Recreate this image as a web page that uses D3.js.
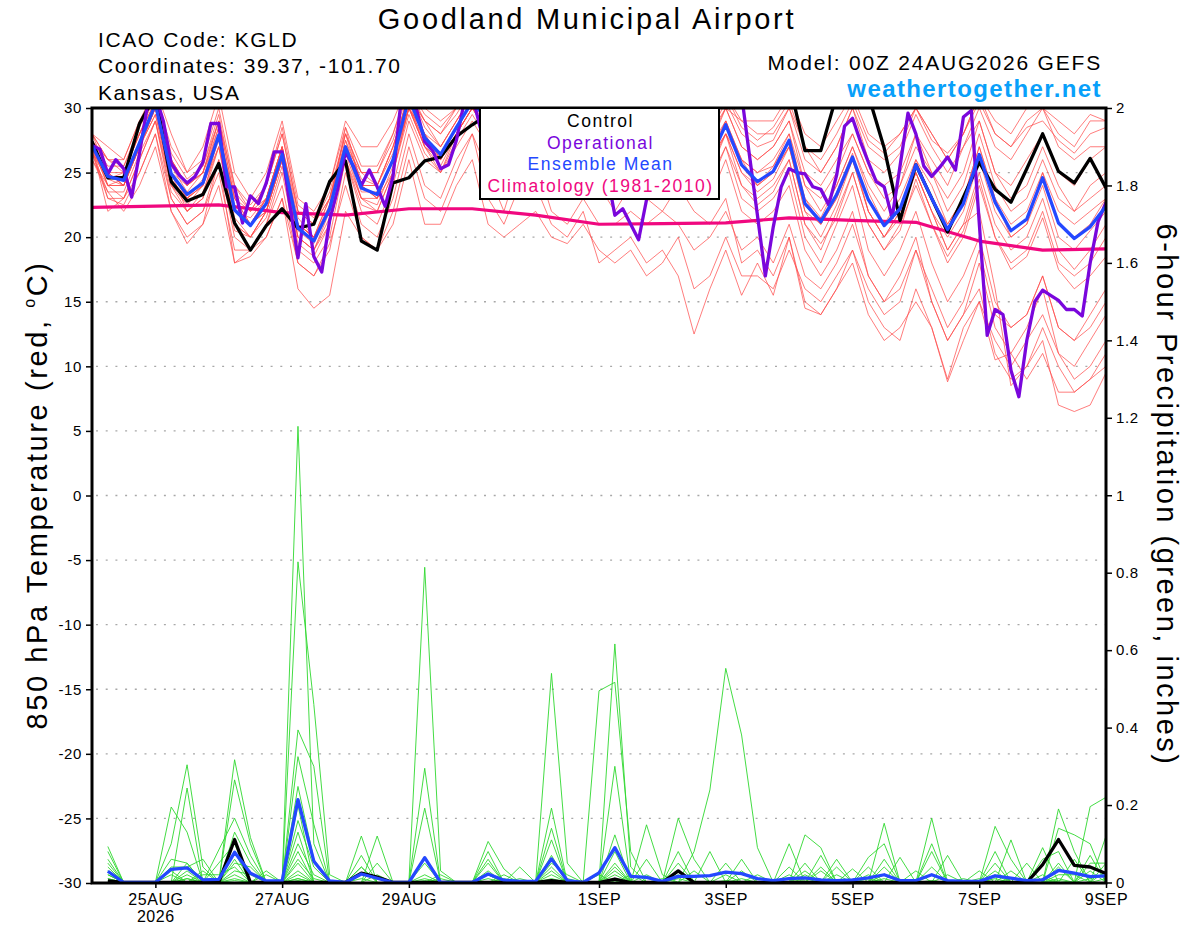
<!DOCTYPE html>
<html>
<head>
<meta charset="utf-8">
<script src="https://cdn.jsdelivr.net/npm/d3@7"></script>
<style>
	body { margin: 0; background: #fff; }
	svg text { font-family: "Liberation Sans", Arial, Helvetica, sans-serif; }
</style>
</head>
<body>
<svg id="chart" width="1200" height="927"></svg>
<script>
/* eslint-disable no-magic-numbers */

// run start, 00Z 24AUG2026; members are 6-hourly, operational 3-hourly
var runStart = Date.UTC(2026, 7, 24, 0),
	runHours = 384;

var tempTicks = [30, 25, 20, 15, 10, 5, 0, -5, -10, -15, -20, -25, -30],
	precipTicks = [0, 0.2, 0.4, 0.6, 0.8, 1, 1.2, 1.4, 1.6, 1.8, 2],
	xTickDays = [1, 3, 5, 8, 10, 12, 14, 16],
	xTickLabels = ["25AUG", "27AUG", "29AUG", "1SEP", "3SEP", "5SEP", "7SEP", "9SEP"],
	legendLabels = ["Control", "Operational", "Ensemble Mean", "Climatology (1981-2010)"];

// 850 hPa temperature, deg C, every 6 h from 00Z 24AUG (65 values)
var tempControl = [27.4, 24.6, 24.6, 28.8, 31, 24.3, 22.8, 23.3, 25.7, 21.1, 19, 20.9, 22.2, 20.7, 21, 24.3,
	25.9, 19.7, 19, 24.2, 24.6, 25.9, 26.2, 27.8, 28.7, 29.5, 30.5, 31, 29.5, 28.5, 30.5, 31,
	29, 28, 29.5, 28.5, 30, 31, 29.5, 30.5, 31, 31.5, 31, 31.5, 32, 26.7, 26.7, 31,
	32, 31, 26.9, 21.3, 25.6, 23, 20.4, 23.1, 25.8, 23.7, 22.7, 25.3, 28, 25.1, 24.2, 26.1, 23.8];

var tempMean = [27.1, 24.7, 24.4, 27.3, 30.3, 24.9, 23.3, 24.2, 27.9, 22.1, 20.9, 22.6, 26.4, 20.7, 19.7, 22.2,
	27, 23.8, 23.3, 26, 30.8, 27.7, 26.4, 28.5, 30.5, 29, 27.5, 30.2, 28.5, 26.5, 27, 29,
	26, 25.5, 27.5, 26, 25.5, 28, 26.5, 26, 28.7, 25.6, 24.3, 25.1, 27.5, 22.6, 21.2, 23.3,
	26.2, 22.9, 20.9, 22.2, 25.6, 23, 20.6, 22.6, 26.4, 22.7, 20.5, 21.4, 24.6, 21.1, 19.9, 20.8, 22.4];

// operational run, every 3 h (129 values)
var tempOper = [27.1, 26.8, 24.9, 26, 25.3, 23.1, 26.5, 30.2, 31, 29, 25.7, 24.8, 24.2, 24.7, 25.8, 28.8,
	28.8, 23.9, 23.9, 21.1, 23.2, 22.6, 24.2, 26.6, 26.6, 22.4, 18.4, 22.6, 18.5, 17.3, 21.3, 23.7,
	26.6, 25.5, 24, 25.2, 23.9, 22.4, 24.7, 30.5, 31.5, 29.8, 27.4, 26.7, 25.3, 25.6, 27.5, 30.5,
	31, 28.5, 30.5, 31, 29.5, 27, 28, 30.5, 31, 29, 27.5, 26.5, 28.5, 30.5, 29, 27,
	26.5, 25, 21.7, 22.2, 21, 19.8, 22.9, 26.5, 29, 30.5, 29.5, 28, 27, 28.5, 30.5, 31.5,
	31, 30.5, 31, 26.3, 21.7, 17, 20.8, 23.9, 25.3, 25, 24.9, 23.9, 23.7, 22.5, 24.8, 28.6,
	29.2, 27.4, 25.8, 24.3, 23.9, 21.5, 25.5, 29.6, 28, 25.5, 24.7, 25.4, 26.2, 25.2, 29.3, 29.8,
	21.1, 12.4, 14.4, 14, 9.7, 7.65, 12, 15, 15.9, 15.5, 15.1, 14.4, 14.4, 13.9, 18, 21.2, 22.7];

// 1981-2010 climatology, one value per day at 00Z (17 values)
var tempClimo = [22.3, 22.4, 22.5, 21.9, 21.7, 22.2, 22.2, 21.7, 21, 21.05, 21.1, 21.5, 21.3, 21.15, 19.7, 19, 19.1];

// GEFS perturbed members, 6-hourly (65 values each)
var tempMembers = [
	[28, 27, 26, 29, 31, 27, 25, 26, 30, 24, 22, 24, 28, 22, 21, 23, 28, 25, 25, 28, 32, 30, 29, 30, 32, 31, 30, 31, 30, 29, 29, 31,
		28, 28, 29, 28, 28, 30, 28, 28, 30, 29, 28, 28, 30, 27, 25, 27, 30, 27, 26, 27, 30, 28, 26, 28, 31, 28, 27, 29, 30, 28, 27, 29, 29],
	[27.5, 26, 25, 28, 30.5, 26, 24, 25, 29, 23, 21, 23, 27, 21.5, 20, 22.5, 28.5, 24, 24, 27, 31, 29, 28, 30, 31, 30, 28, 31, 29, 27, 28, 30,
		27, 27, 28.5, 27, 27, 29, 28, 27, 30, 27, 26, 27, 29, 25, 24, 26, 28, 25, 24, 25, 28, 26, 24, 27, 29, 25, 24, 26, 28, 25, 24, 26, 27],
	[27, 24, 24, 27, 29.5, 24, 23, 24, 27, 22, 21, 22, 26, 21, 20, 22, 27, 23, 23, 26, 30.5, 27, 26, 28, 30, 28, 27, 29.5, 28, 26, 27, 29,
		26, 25, 27, 25, 25, 27, 26, 26, 28, 25, 24, 25, 27, 23, 21, 23, 26, 23, 21, 22, 26, 23, 21, 23, 27, 23, 21, 22, 25, 22, 21, 22, 23],
	[26.5, 25, 24, 27, 30, 25, 22, 23, 28, 21, 20, 22, 26, 20, 19, 22, 27, 24, 23, 25, 30, 28, 26, 28, 31, 29, 27, 30, 29, 26, 26, 28,
		25, 24, 27, 26, 25, 28, 26, 25, 28, 24, 23, 24, 26, 21, 19, 22, 25, 21, 19, 21, 24, 21, 18, 20, 24, 20, 18, 19, 22, 18, 17, 18, 20],
	[27, 23, 23, 26, 29, 24, 22, 23, 27, 21, 20, 22, 26, 20, 19, 21, 26, 23, 22, 25, 30, 27, 25, 28, 30, 28, 26, 29, 28, 25, 26, 28,
		25, 24, 26, 25, 24, 26, 25, 24, 27, 23, 22, 23, 25, 20, 18, 21, 24, 19, 17, 19, 22, 18, 15, 17, 20, 15, 13, 14, 17, 13, 12, 13, 15],
	[27.5, 24, 23, 26, 29, 23, 21, 22, 26, 20, 19, 21, 25, 19, 18, 20, 26, 22, 21, 24, 29, 26, 25, 27, 29, 27, 25, 28, 27, 24, 25, 27,
		24, 23, 25, 24, 24, 25, 24, 23, 26, 22, 21, 22, 24, 19, 17, 19, 22, 17, 15, 17, 20, 15, 12, 14, 16, 11, 9, 10, 12, 7, 6.5, 7, 9.5],
	[26.5, 23, 22.5, 25, 28, 23, 21, 22, 25, 19, 19, 21, 24, 18, 17, 19, 25, 21, 20, 23, 28, 24, 23, 26, 28, 25, 22, 26, 24, 21, 20, 22,
		18, 19, 20, 18, 19, 17, 12.5, 16, 19, 15.5, 18, 15.5, 20, 15, 14, 16, 18, 14, 12, 13, 15, 13, 9, 13, 15, 10.5, 11, 9, 11, 8, 8, 9, 11],
	[27, 22, 23, 25, 28, 22, 20, 21, 26, 18, 19, 20, 23, 16, 14.5, 15.5, 22, 20, 19, 22, 27, 23, 22, 25, 28, 23, 21, 24, 26, 22, 21, 23,
		21, 21, 22, 21, 22, 21, 19, 20, 22, 19, 20, 18, 21, 17, 16, 18, 21, 17, 15, 16, 19, 16, 13, 15, 19, 14, 13, 14, 17, 13, 12, 14, 16],
	[28, 25, 25, 28, 31, 26, 24, 25, 29, 23, 21, 23, 27, 21, 20, 23, 28, 24, 24, 27, 31, 28, 27, 29, 31, 30, 28, 31, 29, 27, 28, 30,
		27, 26, 28, 27, 26, 28, 27, 27, 29, 26, 25, 26, 28, 24, 22, 24, 27, 24, 22, 24, 27, 25, 22, 24, 28, 24, 22, 23, 26, 23, 22, 23, 24],
	[26.5, 24.5, 24, 27.5, 30, 25.5, 23.5, 25, 28.5, 22.5, 21, 22.5, 26.5, 21, 20, 23, 27.5, 24.5, 24, 26.5, 31.5, 28.5, 27, 29, 31, 29.5, 28, 30.5, 29, 27, 27.5, 29.5,
		26.5, 26, 28, 26.5, 26, 28.5, 27, 26.5, 29, 26, 25, 25.5, 28, 23, 21.5, 24, 27, 23.5, 21, 23, 26, 24, 21, 23, 27, 23, 20, 21, 25, 21, 20, 21, 23],
	[28, 26, 26, 29, 31.5, 28, 25, 27, 31, 25, 23, 25, 29, 23, 22, 24, 29, 27, 27, 29, 32, 30, 30, 31, 32, 31, 30, 32, 31, 29, 30, 31,
		29, 28, 30, 29, 29, 31, 29, 29, 31, 29, 29, 29, 31, 28, 27, 29, 31, 28, 27, 28, 30, 28, 26, 28, 31, 29, 28, 30, 30, 29, 28, 29.5, 29],
	[27, 24, 24, 27, 30, 24, 22.5, 24, 27.5, 21.5, 20, 22, 26, 20, 19, 21.5, 26.5, 23, 22.5, 25.5, 30, 27, 25.5, 28, 30, 28.5, 27, 29.5, 28, 26, 26.5, 28.5,
		25.5, 25, 27, 25.5, 25, 27.5, 26, 25.5, 28, 25, 23.5, 24.5, 27, 22, 20, 22.5, 26, 22, 20, 21.5, 25, 22, 19, 21, 25, 21, 19, 20, 23, 19, 17.5, 19, 21],
	[26.5, 23.5, 22, 24, 27, 22, 19.5, 21, 24, 18, 18.5, 20, 23, 18, 17, 19.5, 24, 20, 19, 21, 26, 21, 21, 24, 26, 21, 20, 21, 22, 20, 19.5, 21,
		19, 18, 19, 17, 18, 20, 16, 17, 20, 17, 17, 16, 19, 16, 15, 17, 19, 16, 14, 15, 19, 15, 12, 14, 18, 13, 11, 13, 16, 11, 10, 12, 14],
	[27, 25, 24, 27, 30, 25, 23, 24, 28, 22, 21, 23, 27, 21, 20, 22, 27, 24, 23, 26, 30, 27, 26, 28, 30, 28, 26, 29, 27, 25, 25, 27,
		24, 22, 24, 23, 22, 24, 22, 21, 23, 18, 19, 17, 20, 14.5, 14, 16, 19, 15, 13, 12, 16, 13, 8.8, 12, 15, 12, 10, 12, 14, 11, 9, 10, 12],
	[27.5, 24.5, 25, 28, 30.5, 25, 24, 25, 28, 23, 22, 23, 27, 22, 21, 23, 27, 25, 24, 27, 31, 29, 27, 29, 31, 30, 28.5, 30.5, 30, 27.5, 28, 30,
		27.5, 26.5, 29, 27.5, 27, 29, 28, 27.5, 30, 27, 26, 27, 29, 24, 23, 25, 28, 25, 23, 24, 28, 25, 23, 25, 29, 25, 23, 24, 27, 24, 22, 24, 25],
	[26, 24, 24.5, 27, 29.5, 24.5, 23, 24.5, 28.5, 22, 21.5, 23, 27, 20.5, 19.5, 22.5, 27.5, 23.5, 23.5, 26, 30, 27.5, 26, 28.5, 30.5, 29, 27.5, 29, 28.5, 26.5, 26.5, 28.5,
		26, 25.5, 27.5, 26.5, 25.5, 28, 26.5, 26, 29, 25.5, 24, 25.5, 27.5, 22.5, 21, 23.5, 26.5, 22, 20, 22, 25, 22, 20, 22, 26, 22, 20, 21, 24, 20, 19, 20.5, 22],
	[27, 25, 24, 27, 30, 25, 23, 24, 28, 22, 21, 22, 26, 21, 20, 22, 27, 24, 23, 26, 30, 28, 26, 28, 30, 29, 27, 30, 28, 27, 27, 29,
		26, 26, 27, 26, 26, 28, 26, 26, 28, 26, 24, 25, 27, 22, 21, 23, 26, 22, 20, 22, 25, 22, 19, 21, 22, 16, 8.5, 10, 13, 10, 8, 9, 10],
	[27.5, 25.5, 25.5, 28.5, 31, 26.5, 24.5, 25.5, 29.5, 23.5, 22, 24, 28, 22, 21, 23.5, 28, 25, 25, 27.5, 31.5, 29, 28, 29.5, 31.5, 30, 29, 31, 30, 28, 28.5, 30,
		28, 27, 29, 28, 27.5, 29.5, 28.5, 28, 30.5, 28, 27, 27.5, 30, 26, 25, 27, 30, 26, 25, 26.5, 29.5, 27, 25, 27, 30, 27, 26, 28, 30, 27, 26, 27, 27],
	[26, 23.5, 23.5, 26.5, 29, 23.5, 22, 23.5, 27, 20.5, 20, 21.5, 25.5, 19.5, 18.5, 21, 26, 22.5, 22, 25, 29.5, 26.5, 25, 27.5, 29.5, 27.5, 26, 28.5, 27.5, 25, 25.5, 27.5,
		24.5, 24, 26, 24.5, 24, 26.5, 25, 24.5, 27, 24, 22.5, 23.5, 26, 21, 19.5, 21.5, 25, 21, 19, 20.5, 24.5, 21, 18.5, 20.5, 24.5, 20, 17.5, 18.5, 21.5, 17.5, 16, 17, 18.5],
	[28, 26, 25.5, 28, 30.5, 26, 24, 25.5, 29, 24, 22.5, 24, 28.5, 22.5, 21.5, 24, 28.5, 25.5, 25.5, 28, 31.5, 29.5, 28.5, 30, 31.5, 30.5, 29.5, 31.5, 30.5, 28, 29, 30.5,
		28.5, 27.5, 29.5, 28.5, 28, 30, 29, 28.5, 31, 28.5, 27.5, 28.5, 30.5, 27, 26, 28, 30.5, 27.5, 26.5, 28, 30, 27.5, 26.5, 28, 30.5, 28, 27, 28.5, 29, 27.5, 26.5, 28, 28.5]
];

// 6-hour precipitation, inches, periods ending 06Z 24AUG ... 00Z 9SEP (64 values)
var precipControl = [0.004, 0, 0, 0, 0, 0, 0, 0, 0.111, 0, 0, 0, 0, 0, 0, 0,
	0.024, 0.014, 0, 0, 0, 0, 0, 0, 0, 0, 0, 0, 0.005, 0, 0, 0,
	0.009, 0, 0, 0, 0.03, 0, 0, 0, 0, 0, 0, 0, 0, 0, 0, 0,
	0, 0, 0, 0, 0, 0, 0, 0, 0, 0, 0, 0.046, 0.111, 0.044, 0.04, 0.023];

var precipMean = [0.029, 0, 0, 0, 0.034, 0.038, 0.007, 0.008, 0.078, 0.024, 0.004, 0.004, 0.214, 0.055, 0.004, 0,
	0.022, 0.011, 0, 0, 0.064, 0, 0, 0, 0.022, 0.006, 0.003, 0.003, 0.061, 0.005, 0, 0.025,
	0.09, 0.016, 0.013, 0.003, 0.016, 0.016, 0.018, 0.027, 0.023, 0.01, 0.005, 0.01, 0.012, 0.007, 0.005, 0.007,
	0.012, 0.02, 0.005, 0.005, 0.02, 0.005, 0.003, 0.003, 0.017, 0.011, 0.005, 0.007, 0.031, 0.024, 0.015, 0.017];

var precipMembers = [
	[0.093, 0, 0, 0, 0.1, 0.304, 0.04, 0, 0.08, 0, 0, 0, 1.178, 0.1, 0, 0, 0.04, 0, 0, 0, 0.05, 0, 0, 0, 0.06, 0, 0, 0, 0.54, 0.05, 0, 0,
		0.05, 0, 0, 0, 0.05, 0, 0, 0.05, 0, 0, 0, 0, 0.05, 0, 0, 0, 0, 0.06, 0, 0, 0.08, 0, 0, 0, 0.05, 0, 0, 0, 0.05, 0, 0.05, 0.05],
	[0.08, 0, 0, 0, 0.195, 0.13, 0, 0, 0.317, 0.116, 0, 0, 0.828, 0.46, 0.02, 0, 0, 0.05, 0, 0, 0.02, 0, 0, 0, 0.106, 0.035, 0, 0, 0.192, 0, 0, 0,
		0.616, 0.04, 0, 0, 0, 0, 0.08, 0, 0, 0, 0, 0.1, 0, 0.04, 0, 0, 0.04, 0, 0, 0, 0.166, 0, 0, 0, 0.08, 0, 0, 0, 0.19, 0.08, 0, 0.12],
	[0.06, 0, 0, 0, 0, 0.244, 0, 0, 0.265, 0.1, 0, 0, 0.394, 0.3, 0, 0, 0.12, 0, 0, 0, 0.814, 0.03, 0, 0, 0.08, 0, 0, 0, 0.14, 0, 0, 0.495,
		0.517, 0.08, 0, 0, 0.166, 0.06, 0, 0, 0.06, 0, 0, 0, 0.123, 0.09, 0, 0, 0, 0.153, 0, 0, 0, 0.07, 0, 0, 0, 0.11, 0, 0.09, 0, 0, 0.196, 0.22],
	[0.05, 0, 0, 0, 0.06, 0.05, 0, 0.084, 0.166, 0.07, 0, 0, 0.325, 0.15, 0, 0, 0, 0.12, 0, 0, 0.295, 0, 0, 0, 0.05, 0, 0.04, 0, 0.11, 0, 0, 0,
		0.3, 0, 0.149, 0.02, 0, 0.08, 0.239, 0.553, 0.381, 0.09, 0, 0, 0, 0.07, 0, 0, 0.065, 0.1, 0, 0, 0.1, 0, 0, 0, 0.145, 0.06, 0, 0, 0.14, 0.123, 0.1, 0],
	[0.04, 0, 0, 0, 0.04, 0.04, 0.06, 0, 0.13, 0.05, 0, 0, 0.248, 0.06, 0, 0, 0.07, 0, 0, 0, 0.192, 0, 0, 0, 0.03, 0, 0, 0, 0.07, 0, 0, 0,
		0.123, 0, 0.06, 0, 0, 0, 0, 0, 0, 0, 0, 0.04, 0, 0, 0.06, 0, 0, 0, 0.065, 0, 0, 0, 0, 0.03, 0, 0, 0, 0.06, 0.08, 0, 0.07, 0],
	[0.03, 0, 0, 0, 0, 0.03, 0, 0.05, 0.1, 0, 0, 0, 0.2, 0, 0, 0, 0.04, 0, 0, 0, 0, 0.01, 0, 0, 0, 0.02, 0, 0, 0.05, 0.02, 0, 0,
		0.08, 0, 0, 0, 0.08, 0, 0, 0, 0, 0, 0, 0, 0.02, 0, 0.04, 0, 0, 0.02, 0, 0.03, 0, 0, 0, 0, 0.03, 0, 0.05, 0, 0, 0.06, 0, 0.05],
	[0.03, 0, 0, 0, 0.03, 0, 0.03, 0, 0.06, 0, 0.03, 0, 0.16, 0.04, 0, 0, 0, 0.02, 0, 0, 0, 0, 0, 0, 0.02, 0, 0, 0, 0.04, 0, 0, 0,
		0.04, 0, 0, 0, 0, 0.03, 0, 0, 0.03, 0, 0, 0, 0, 0.03, 0, 0.035, 0, 0, 0, 0, 0.04, 0, 0, 0, 0, 0.03, 0, 0, 0.04, 0, 0, 0.03],
	[0.02, 0, 0, 0, 0, 0.02, 0, 0, 0.05, 0.04, 0, 0, 0.13, 0, 0, 0, 0, 0, 0, 0, 0, 0.02, 0, 0, 0, 0, 0, 0, 0.03, 0, 0, 0.02,
		0, 0.02, 0, 0, 0.02, 0, 0, 0.02, 0, 0, 0, 0.02, 0, 0, 0, 0, 0.02, 0, 0, 0, 0, 0, 0.01, 0, 0, 0, 0, 0.02, 0, 0, 0.03, 0],
	[0.02, 0, 0, 0, 0.02, 0, 0.02, 0.02, 0.04, 0, 0.02, 0, 0.1, 0.02, 0, 0, 0, 0, 0, 0, 0.01, 0, 0, 0, 0.01, 0, 0, 0, 0, 0.01, 0, 0,
		0.02, 0, 0, 0.01, 0, 0, 0, 0, 0, 0.02, 0, 0, 0, 0, 0.02, 0, 0, 0.04, 0, 0, 0, 0.02, 0, 0, 0.02, 0, 0, 0, 0.02, 0.02, 0, 0],
	[0, 0, 0, 0, 0, 0, 0, 0, 0.03, 0.02, 0, 0, 0.08, 0, 0, 0, 0.01, 0, 0, 0, 0, 0, 0, 0, 0, 0.01, 0, 0, 0.02, 0, 0, 0,
		0.01, 0, 0.02, 0, 0, 0, 0, 0, 0, 0, 0, 0, 0.01, 0, 0, 0, 0, 0, 0, 0, 0.02, 0, 0, 0.01, 0, 0, 0, 0, 0, 0, 0.01, 0.02],
	[0.01, 0, 0, 0, 0, 0.01, 0, 0, 0.02, 0, 0, 0, 0.06, 0.01, 0, 0, 0, 0, 0, 0, 0, 0, 0, 0, 0.02, 0, 0, 0, 0, 0, 0, 0,
		0.03, 0, 0, 0, 0.01, 0, 0, 0, 0.01, 0, 0, 0, 0, 0, 0, 0, 0.01, 0, 0, 0, 0, 0, 0, 0, 0.01, 0, 0, 0, 0.01, 0, 0, 0],
	[0, 0, 0, 0, 0, 0, 0, 0, 0.01, 0, 0, 0, 0.05, 0, 0, 0, 0, 0, 0, 0, 0, 0, 0, 0, 0, 0, 0.01, 0, 0.01, 0, 0, 0,
		0, 0, 0, 0, 0, 0, 0, 0, 0, 0, 0, 0, 0.03, 0, 0, 0, 0, 0.01, 0, 0, 0, 0, 0, 0, 0, 0, 0, 0.01, 0, 0, 0, 0.01],
	[0.01, 0, 0, 0, 0, 0.05, 0, 0, 0, 0, 0, 0, 0.03, 0, 0, 0, 0, 0, 0, 0, 0, 0, 0, 0, 0, 0, 0, 0, 0, 0, 0, 0,
		0, 0, 0, 0, 0, 0, 0, 0, 0, 0, 0, 0, 0, 0, 0, 0, 0, 0, 0, 0, 0, 0, 0, 0, 0, 0.01, 0, 0, 0, 0, 0, 0],
	[0, 0, 0, 0, 0, 0, 0, 0, 0, 0, 0, 0, 0.02, 0, 0, 0, 0, 0, 0, 0, 0, 0, 0, 0, 0, 0, 0, 0, 0.005, 0, 0, 0,
		0, 0, 0, 0, 0, 0, 0, 0, 0, 0, 0, 0, 0, 0, 0, 0, 0, 0, 0, 0, 0.005, 0, 0, 0, 0, 0, 0, 0, 0, 0, 0, 0],
	[0, 0, 0, 0, 0, 0, 0, 0, 0.005, 0, 0, 0, 0.01, 0, 0, 0, 0, 0, 0, 0, 0, 0, 0, 0, 0, 0, 0, 0, 0, 0, 0, 0,
		0.01, 0, 0, 0, 0, 0, 0, 0, 0, 0, 0, 0, 0, 0, 0, 0, 0, 0, 0, 0, 0, 0, 0, 0, 0, 0, 0, 0, 0, 0, 0, 0],
	[0, 0, 0, 0, 0, 0, 0, 0, 0, 0, 0, 0, 0.005, 0, 0, 0, 0, 0, 0, 0, 0.005, 0, 0, 0, 0, 0, 0, 0, 0, 0, 0, 0,
		0, 0, 0, 0, 0, 0, 0, 0, 0, 0, 0, 0, 0, 0, 0, 0, 0, 0, 0, 0, 0, 0, 0, 0, 0, 0, 0, 0, 0, 0, 0, 0],
	[0, 0, 0, 0, 0, 0.01, 0, 0, 0, 0, 0, 0, 0, 0, 0, 0, 0, 0, 0, 0, 0, 0, 0, 0, 0, 0, 0, 0, 0, 0, 0, 0,
		0, 0, 0, 0, 0, 0, 0, 0.005, 0, 0, 0, 0, 0, 0, 0, 0, 0, 0, 0, 0, 0, 0, 0, 0, 0, 0, 0, 0, 0, 0, 0, 0],
	[0.005, 0, 0, 0, 0, 0, 0, 0, 0, 0, 0, 0, 0, 0, 0, 0, 0, 0, 0, 0, 0, 0, 0, 0, 0, 0, 0, 0, 0, 0, 0, 0,
		0, 0, 0, 0, 0, 0, 0, 0, 0, 0, 0, 0, 0, 0, 0, 0, 0, 0, 0, 0, 0, 0, 0, 0, 0, 0, 0, 0, 0, 0, 0, 0],
	[0, 0, 0, 0, 0, 0, 0, 0, 0, 0, 0, 0, 0.01, 0, 0, 0, 0, 0, 0, 0, 0, 0, 0, 0, 0, 0, 0, 0, 0, 0, 0, 0,
		0, 0, 0, 0, 0, 0, 0, 0, 0, 0, 0, 0, 0, 0, 0, 0, 0, 0, 0, 0, 0, 0, 0, 0, 0, 0, 0, 0, 0.005, 0, 0, 0],
	[0, 0, 0, 0, 0, 0, 0, 0, 0, 0, 0, 0, 0, 0, 0, 0, 0, 0, 0, 0, 0, 0, 0, 0, 0, 0, 0, 0, 0, 0, 0, 0,
		0.005, 0, 0, 0, 0, 0, 0, 0, 0, 0, 0, 0, 0, 0, 0, 0, 0, 0, 0, 0, 0, 0, 0, 0, 0, 0, 0, 0, 0, 0, 0, 0]
];

(function() {
	'use strict';

	var svg = d3.select("#chart"),
		left = 92,
		right = 1106,
		top = 108,
		bottom = 883,
		hourMs = 3600 * 1000,
		x, yT, yP, plot, tempLine, precipLine;

	function at(hours) {
		return new Date(runStart + hours * hourMs);
	}

	x = d3.scaleUtc()
		.domain([at(0), at(runHours)])
		.range([left, right]);
	yT = d3.scaleLinear()
		.domain([-30, 30])
		.range([bottom, top]);
	yP = d3.scaleLinear()
		.domain([0, 2])
		.range([bottom - 0.5, top]);

	function tempLineStep(step) {
		return d3.line()
			.x(function(d, i) { return x(at(i * step)); })
			.y(function(d) { return yT(d); });
	}
	tempLine = tempLineStep(6);
	// precip periods end at 06Z, so the first value sits one step in
	precipLine = d3.line()
		.x(function(d, i) { return x(at((i + 1) * 6)); })
		.y(function(d) { return yP(d); });

	svg.append("defs").append("clipPath")
		.attr("id", "plotclip")
		.append("rect")
		.attr("x", left)
		.attr("y", top)
		.attr("width", right - left)
		.attr("height", bottom - top);

	// dotted grid on the temperature ticks
	svg.append("g")
		.selectAll("line")
		.data(tempTicks.filter(function(d) { return d > -30 && d < 30; }))
		.join("line")
		.attr("x1", left + 4)
		.attr("x2", right)
		.attr("y1", function(d) { return yT(d); })
		.attr("y2", function(d) { return yT(d); })
		.attr("stroke", "#a8a8a8")
		.attr("stroke-width", 1.3)
		.attr("stroke-dasharray", "2,7.7");

	plot = svg.append("g").attr("clip-path", "url(#plotclip)");

	plot.append("g")
		.selectAll("path")
		.data(tempMembers)
		.join("path")
		.attr("fill", "none")
		.attr("stroke", "#ff4a4a")
		.attr("stroke-width", 0.8)
		.attr("stroke-opacity", 0.9)
		.attr("d", tempLine);

	plot.append("g")
		.selectAll("path")
		.data(precipMembers)
		.join("path")
		.attr("fill", "none")
		.attr("stroke", "#2fd82f")
		.attr("stroke-width", 0.9)
		.attr("d", precipLine);

	plot.append("path")
		.datum(tempClimo)
		.attr("fill", "none")
		.attr("stroke", "#f0087f")
		.attr("stroke-width", 3.2)
		.attr("stroke-linejoin", "round")
		.attr("d", tempLineStep(24));

	[
		{data: precipControl, line: precipLine, color: "#000"},
		{data: precipMean, line: precipLine, color: "#2448ff"},
		{data: tempControl, line: tempLine, color: "#000"},
		{data: tempOper, line: tempLineStep(3), color: "#7a06dc"},
		{data: tempMean, line: tempLine, color: "#2448ff"}
	].forEach(function(s) {
		plot.append("path")
			.datum(s.data)
			.attr("fill", "none")
			.attr("stroke", s.color)
			.attr("stroke-width", 3.3)
			.attr("stroke-linejoin", "round")
			.attr("d", s.line);
	});

	// axes
	var axL = svg.append("g")
		.attr("transform", "translate(" + left + ",0)")
		.call(d3.axisLeft(yT).tickValues(tempTicks).tickSize(6).tickPadding(4)
			.tickFormat(function(d) { return d; }));
	var axR = svg.append("g")
		.attr("transform", "translate(" + right + ",0)")
		.call(d3.axisRight(yP).tickValues(precipTicks).tickSize(6).tickPadding(4)
			.tickFormat(function(d) { return d; }));
	var axB = svg.append("g")
		.attr("transform", "translate(0," + bottom + ")")
		.call(d3.axisBottom(x)
			.tickValues(xTickDays.map(function(d) { return at(d * 24); }))
			.tickSize(5).tickPadding(6)
			.tickFormat(function(d, i) { return xTickLabels[i]; }));

	[axL, axR, axB].forEach(function(ax) {
		ax.select(".domain").remove();
		ax.selectAll(".tick line").attr("stroke", "#000").attr("stroke-width", 1.5);
		ax.selectAll("text")
			.attr("font-family", "Liberation Sans, Arial, sans-serif")
			.attr("font-size", 15)
			.attr("letter-spacing", 0.6)
			.attr("fill", "#000");
	});
	axB.selectAll("text").attr("font-size", 16);
	axB.select(".tick text")
		.append("tspan")
		.attr("x", 0)
		.attr("dy", "1.05em")
		.text("2026");

	// frame
	svg.append("rect")
		.attr("x", left)
		.attr("y", top)
		.attr("width", right - left)
		.attr("height", bottom - top)
		.attr("fill", "none")
		.attr("stroke", "#000")
		.attr("stroke-width", 3);

	// legend box
	var leg = svg.append("g");
	leg.append("rect")
		.attr("x", 480)
		.attr("y", 108)
		.attr("width", 239)
		.attr("height", 91)
		.attr("fill", "#fff")
		.attr("stroke", "#000")
		.attr("stroke-width", 2);
	leg.selectAll("text")
		.data(legendLabels)
		.join("text")
		.attr("x", 600.5)
		.attr("y", function(d, i) { return 127 + i * 21.6; })
		.attr("text-anchor", "middle")
		.attr("font-size", 17.5)
		.attr("letter-spacing", 1.5)
		.attr("fill", function(d, i) { return ["#000", "#7a06dc", "#2448ff", "#f0087f"][i]; })
		.text(function(d) { return d; });

	// header texts
	svg.append("text")
		.attr("x", 587)
		.attr("y", 29)
		.attr("text-anchor", "middle")
		.attr("font-size", 29)
		.attr("letter-spacing", 2.7)
		.text("Goodland Municipal Airport");

	svg.append("g")
		.selectAll("text")
		.data(["ICAO Code: KGLD", "Coordinates: 39.37, -101.70", "Kansas, USA"])
		.join("text")
		.attr("x", 98)
		.attr("y", function(d, i) { return 47 + i * 26.3; })
		.attr("font-size", 21)
		.attr("letter-spacing", 1.6)
		.text(function(d) { return d; });

	svg.append("text")
		.attr("x", 1102)
		.attr("y", 70)
		.attr("text-anchor", "end")
		.attr("font-size", 21)
		.attr("letter-spacing", 1.8)
		.text("Model: 00Z 24AUG2026 GEFS");

	svg.append("text")
		.attr("x", 1102)
		.attr("y", 97)
		.attr("text-anchor", "end")
		.attr("font-size", 24)
		.attr("font-weight", "bold")
		.attr("letter-spacing", 1.4)
		.attr("fill", "#08a0fa")
		.text("weathertogether.net");

	// axis titles
	var tl = svg.append("text")
		.attr("transform", "translate(47,495) rotate(-90)")
		.attr("text-anchor", "middle")
		.attr("font-size", 29)
		.attr("letter-spacing", 2.6);
	tl.append("tspan").text("850 hPa Temperature (red, ");
	tl.append("tspan").attr("font-size", 16).attr("dy", -12).text("o");
	tl.append("tspan").attr("dy", 12).text("C)");

	svg.append("text")
		.attr("transform", "translate(1157,495) rotate(90)")
		.attr("text-anchor", "middle")
		.attr("font-size", 29)
		.attr("letter-spacing", 2.5)
		.text("6-hour Precipitation (green, inches)");
})();
</script>
</body>
</html>
